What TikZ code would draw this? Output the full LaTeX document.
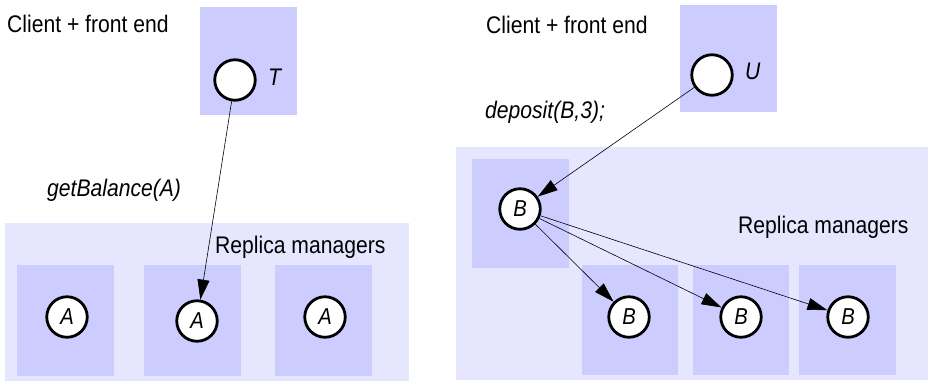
\documentclass[tikz,border=0pt]{standalone}
\usepackage{fontspec}
\setmainfont{Liberation Sans}[FakeStretch=0.88]
\usetikzlibrary{arrows.meta}
\definecolor{outerbg}{RGB}{230,230,255}
\definecolor{innerbg}{RGB}{204,204,255}
\begin{document}
\begin{tikzpicture}[x=1pt,y=-1pt,
  outerbox/.style={fill=outerbg},
  innerbox/.style={fill=innerbg},
  proc/.style={circle,draw=black,fill=white,line width=2.8pt,minimum size=40.5pt,inner sep=0pt,font=\fontsize{23}{26}\selectfont\itshape},
  lbl/.style={anchor=base west,inner sep=0pt,font=\fontsize{24}{28}\selectfont},
  ilbl/.style={lbl,font=\fontsize{24}{28}\selectfont\itshape},
  conn/.style={line width=0.6pt,-{Triangle[length=20pt,width=12pt]}}
]
\useasboundingbox (0,0) rectangle (928,383);
% ---------- left scenario ----------
\fill[innerbox] (200,7) rectangle (297,115);
\fill[outerbox] (5,223) rectangle (409,381);
\fill[innerbox] (17,265) rectangle (114,376);
\fill[innerbox] (144,265) rectangle (241,376);
\fill[innerbox] (275,265) rectangle (372,376);
\node[lbl] (cfe1) at (7,32) {Client + front end};
\node[proc] (t) at (235,80) {};
\node[ilbl] (tl) at (268,85) {T};
\node[ilbl] (gb) at (47,196) {getBalance(A)};
\node[lbl] (rm1) at (215,253) {Replica managers};
\node[proc] (a1) at (67,317) {A};
\node[proc] (a2) at (197,321) {A};
\node[proc] (a3) at (325,317) {A};
\draw[conn] (t) -- (a2);
% ---------- right scenario ----------
\fill[innerbox] (680,5) rectangle (777,112);
\fill[outerbox] (456,147) rectangle (928,380);
\fill[innerbox] (472,159) rectangle (569,268);
\fill[innerbox] (582,265) rectangle (678,375);
\fill[innerbox] (693,265) rectangle (789,375);
\fill[innerbox] (799,265) rectangle (896,375);
\node[lbl] (cfe2) at (486,33) {Client + front end};
\node[proc] (u) at (712,75) {};
\node[ilbl] (ul) at (745,79) {U};
\node[ilbl] (dp) at (485,118) {deposit(B,3);};
\node[lbl] (rm2) at (738,233) {Replica managers};
\node[proc] (b0) at (520,209) {B};
\node[proc] (b1) at (629,317) {B};
\node[proc] (b2) at (741,317) {B};
\node[proc] (b3) at (848,317) {B};
\draw[conn] (u) -- (b0);
\draw[conn] (b0) -- (b1);
\draw[conn] (b0) -- (b2);
\draw[conn] (b0) -- (b3);
\end{tikzpicture}
\end{document}
